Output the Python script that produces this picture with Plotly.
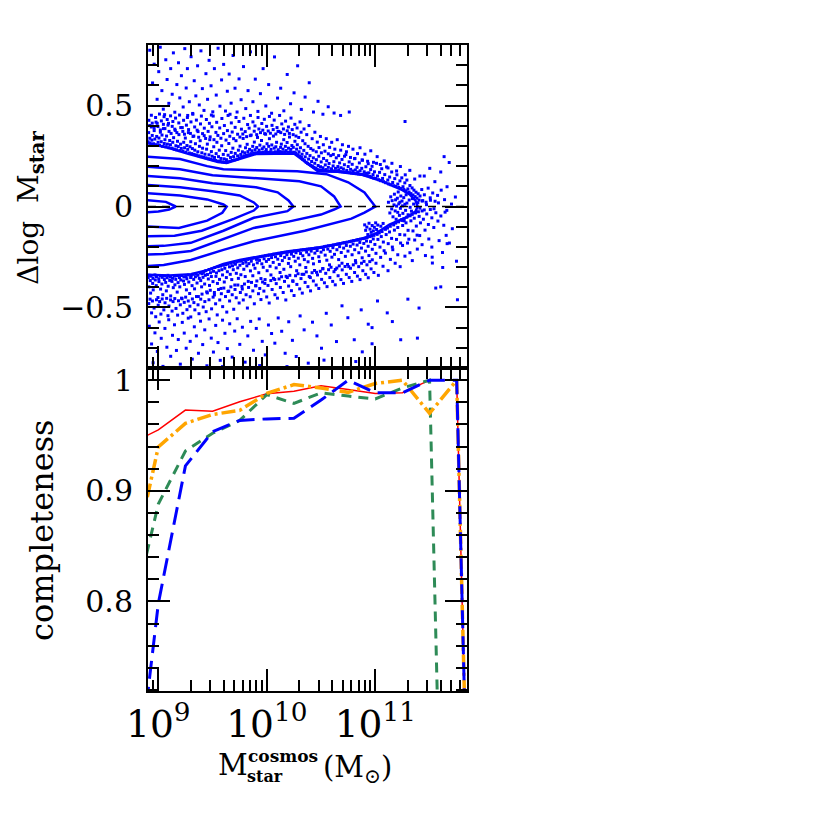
import plotly.graph_objects as go
from plotly.subplots import make_subplots

# shared x range of both panels, log10(M / Msun)
logm_range = [8.905, 11.845]

# ---- top panel: galaxies outside the density contours, (log10 M, dlogM)
upper_sparse = [
    (8.921, .774), (8.947, .612), (8.962, .705), (8.989, .531), (9.004, .668), (9.018, .789), (9.033, .574),
    (9.046, .482), (9.069, .727), (9.081, .629), (9.097, .511), (9.114, .683), (9.128, .556), (9.139, .761),
    (9.152, .467), (9.171, .604), (9.186, .712), (9.198, .538), (9.213, .648), (9.229, .493), (9.244, .782),
    (9.257, .587), (9.268, .683), (9.286, .519), (9.302, .742), (9.317, .461), (9.331, .623), (9.346, .548),
    (9.362, .697), (9.378, .503), (9.393, .771), (9.406, .584), (9.421, .476), (9.439, .658), (9.454, .531),
    (9.468, .724), (9.486, .598), (9.502, .469), (9.517, .683), (9.534, .552), (9.551, .784), (9.568, .497),
    (9.583, .627), (9.602, .704), (9.619, .473), (9.636, .571), (9.653, .656), (9.671, .512), (9.689, .748),
    (9.707, .586), (9.726, .468), (9.744, .632), (9.763, .529), (9.785, .693), (9.806, .485), (9.827, .574),
    (9.849, .766), (9.872, .519), (9.894, .631), (9.918, .471), (9.941, .559), (9.966, .683), (9.991, .498),
    (10.017, .604), (10.044, .462), (10.071, .741), (10.099, .537), (10.128, .586), (10.157, .474),
    (10.188, .654), (10.219, .509), (10.251, .563), (10.284, .697), (10.318, .481), (10.353, .542),
    (10.391, .613), (10.43, .468), (10.472, .521), (10.517, .457), (10.566, .494), (10.62, .463),
    (10.68, .451), (10.76, .468), (11.274, .421), (11.634, .247), (9.058, .455), (9.271, .451),
    (9.489, .453), (9.661, .457),
]
upper_mid = [
    (8.913, .427), (8.921, .401), (8.936, .452), (8.944, .413), (8.962, .389), (8.975, .441), (8.979, .418),
    (8.997, .396), (9.011, .458), (9.019, .379), (9.028, .424), (9.047, .407), (9.053, .445), (9.061, .386),
    (9.082, .431), (9.094, .412), (9.099, .372), (9.113, .449), (9.128, .397), (9.134, .421), (9.152, .383),
    (9.159, .438), (9.171, .366), (9.189, .414), (9.196, .453), (9.207, .391), (9.226, .372), (9.233, .427),
    (9.241, .358), (9.259, .403), (9.268, .441), (9.279, .381), (9.296, .362), (9.301, .419), (9.318, .457),
    (9.327, .349), (9.335, .394), (9.351, .428), (9.366, .371), (9.372, .343), (9.389, .409), (9.397, .448),
    (9.408, .361), (9.424, .388), (9.436, .337), (9.443, .431), (9.459, .372), (9.471, .412), (9.478, .345),
    (9.494, .395), (9.506, .448), (9.513, .331), (9.531, .367), (9.538, .417), (9.549, .352), (9.566, .389),
    (9.577, .338), (9.586, .436), (9.602, .361), (9.609, .401), (9.624, .329), (9.637, .376), (9.643, .451),
    (9.659, .348), (9.673, .414), (9.681, .369), (9.694, .336), (9.708, .392), (9.716, .441), (9.731, .358),
    (9.744, .421), (9.752, .344), (9.766, .383), (9.779, .359), (9.788, .437), (9.801, .371), (9.814, .346),
    (9.823, .406), (9.837, .388), (9.849, .451), (9.856, .354), (9.872, .419), (9.884, .373), (9.891, .399),
    (9.907, .356), (9.919, .441), (9.927, .384), (9.942, .366), (9.954, .411), (9.963, .378), (9.977, .432),
    (9.989, .358), (9.998, .397), (10.013, .374), (10.024, .446), (10.033, .363), (10.048, .402),
    (10.059, .381), (10.068, .428), (10.083, .359), (10.094, .391), (10.103, .372), (10.118, .451),
    (10.129, .366), (10.138, .409), (10.153, .384), (10.164, .357), (10.173, .423), (10.188, .375),
    (10.199, .394), (10.208, .362), (10.223, .438), (10.234, .381), (10.243, .356), (10.258, .407),
    (10.269, .349), (10.279, .389), (10.294, .342), (10.306, .419), (10.316, .368), (10.331, .326),
    (10.343, .384), (10.352, .311), (10.368, .356), (10.381, .298), (10.389, .401), (10.405, .287),
    (10.418, .336), (10.427, .279), (10.443, .368), (10.456, .271), (10.465, .319), (10.481, .292),
    (10.494, .347), (10.503, .266), (10.521, .306), (10.536, .274), (10.548, .336), (10.567, .261),
    (10.579, .293), (10.598, .318), (10.613, .258), (10.627, .284), (10.649, .331), (10.662, .252),
    (10.681, .279), (10.697, .306), (10.716, .249), (10.734, .271), (10.753, .298), (10.771, .243),
    (10.794, .284), (10.812, .238), (10.836, .262), (10.859, .291), (10.878, .231), (10.904, .259),
    (10.929, .224), (10.958, .276), (10.983, .219), (11.017, .247), (11.046, .208), (11.082, .226),
    (11.117, .191), (11.153, .214), (11.196, .176), (11.231, .198), (11.276, .157), (11.318, .179),
    (11.363, .136), (11.411, .151),
]
upper_band = [
    (8.906, .321), (8.911, .366), (8.922, .338), (8.925, .314), (8.936, .394), (8.941, .329), (8.944, .352),
    (8.957, .311), (8.962, .376), (8.968, .334), (8.977, .306), (8.985, .347), (8.99, .412), (8.998, .318),
    (9.006, .339), (9.011, .303), (9.019, .368), (9.027, .321), (9.034, .354), (9.039, .298), (9.048, .386),
    (9.055, .312), (9.061, .331), (9.069, .296), (9.076, .349), (9.084, .309), (9.089, .403), (9.097, .291),
    (9.105, .327), (9.112, .306), (9.118, .362), (9.127, .289), (9.133, .318), (9.141, .341), (9.147, .284),
    (9.156, .377), (9.162, .301), (9.168, .281), (9.177, .323), (9.184, .297), (9.19, .356), (9.199, .277),
    (9.205, .309), (9.212, .288), (9.221, .391), (9.227, .274), (9.234, .318), (9.242, .291), (9.249, .339),
    (9.255, .269), (9.264, .302), (9.271, .283), (9.277, .366), (9.286, .265), (9.292, .296), (9.299, .321),
    (9.308, .262), (9.314, .287), (9.32, .347), (9.329, .258), (9.336, .279), (9.342, .311), (9.351, .255),
    (9.358, .378), (9.364, .271), (9.373, .251), (9.379, .298), (9.386, .326), (9.395, .247), (9.401, .266),
    (9.408, .289), (9.417, .244), (9.423, .351), (9.43, .259), (9.439, .241), (9.445, .284), (9.452, .309),
    (9.461, .237), (9.467, .256), (9.474, .331), (9.483, .234), (9.489, .272), (9.496, .249), (9.505, .231),
    (9.511, .296), (9.518, .243), (9.527, .228), (9.533, .262), (9.54, .318), (9.549, .225), (9.555, .247),
    (9.562, .279), (9.571, .223), (9.577, .238), (9.584, .301), (9.593, .221), (9.599, .258), (9.606, .236),
    (9.615, .219), (9.621, .277), (9.628, .232), (9.637, .221), (9.643, .254), (9.65, .312), (9.659, .224),
    (9.665, .243), (9.672, .268), (9.681, .228), (9.687, .289), (9.694, .247), (9.703, .231), (9.709, .263),
    (9.716, .326), (9.725, .234), (9.731, .251), (9.738, .279), (9.747, .241), (9.753, .299), (9.76, .258),
    (9.769, .246), (9.775, .271), (9.782, .337), (9.791, .251), (9.797, .266), (9.804, .291), (9.813, .254),
    (9.819, .308), (9.826, .272), (9.835, .257), (9.841, .283), (9.848, .351), (9.857, .262), (9.863, .276),
    (9.87, .298), (9.879, .264), (9.885, .319), (9.892, .281), (9.901, .266), (9.907, .292), (9.914, .342),
    (9.923, .268), (9.929, .279), (9.936, .304), (9.945, .267), (9.951, .327), (9.958, .286), (9.967, .269),
    (9.973, .295), (9.98, .361), (9.989, .271), (9.995, .282), (10.002, .311), (10.011, .268), (10.017, .298),
    (10.024, .336), (10.033, .27), (10.039, .283), (10.046, .305), (10.055, .267), (10.061, .349),
    (10.068, .289), (10.077, .271), (10.083, .296), (10.09, .318), (10.099, .268), (10.105, .281),
    (10.112, .372), (10.121, .272), (10.127, .293), (10.134, .309), (10.143, .269), (10.149, .284),
    (10.156, .331), (10.165, .27), (10.171, .298), (10.178, .277), (10.187, .317), (10.193, .268),
    (10.2, .289), (10.209, .344), (10.215, .271), (10.222, .283), (10.231, .302), (10.237, .267),
    (10.244, .293), (10.253, .269), (10.259, .323), (10.266, .265), (10.275, .284), (10.281, .306),
    (10.288, .257), (10.297, .271), (10.303, .249), (10.31, .291), (10.319, .243), (10.325, .259),
    (10.332, .234), (10.341, .278), (10.347, .227), (10.354, .246), (10.363, .219), (10.369, .263),
    (10.376, .214), (10.385, .235), (10.391, .209), (10.398, .252), (10.407, .204), (10.413, .223),
    (10.42, .199), (10.429, .241), (10.435, .194), (10.442, .214), (10.451, .189), (10.457, .232),
    (10.464, .185), (10.473, .203), (10.479, .249), (10.486, .181), (10.495, .197), (10.501, .221),
    (10.508, .179), (10.517, .192), (10.523, .238), (10.53, .178), (10.539, .206), (10.545, .183),
    (10.552, .227), (10.561, .177), (10.567, .194), (10.574, .213), (10.583, .176), (10.589, .252),
    (10.596, .187), (10.605, .176), (10.611, .201), (10.618, .222), (10.627, .175), (10.633, .189),
    (10.64, .241), (10.649, .174), (10.655, .198), (10.662, .182), (10.671, .216), (10.677, .173),
    (10.684, .192), (10.693, .233), (10.699, .172), (10.706, .186), (10.715, .207), (10.721, .171),
    (10.728, .257), (10.737, .179), (10.743, .169), (10.75, .198), (10.759, .221), (10.765, .168),
    (10.772, .184), (10.781, .166), (10.787, .209), (10.794, .176), (10.803, .164), (10.809, .237),
    (10.816, .181), (10.825, .163), (10.831, .194), (10.838, .171), (10.847, .161), (10.853, .216),
    (10.86, .177), (10.869, .159), (10.875, .189), (10.882, .229), (10.891, .158), (10.897, .172),
    (10.904, .156), (10.913, .197), (10.919, .165), (10.926, .153), (10.935, .212), (10.941, .167),
    (10.948, .149), (10.957, .183), (10.963, .146), (10.97, .199), (10.979, .158), (10.985, .141),
    (10.992, .172), (11.003, .139), (11.011, .214), (11.02, .151), (11.031, .133), (11.039, .169),
    (11.048, .128), (11.059, .187), (11.067, .139), (11.076, .123), (11.087, .158), (11.095, .118),
    (11.104, .196), (11.115, .131), (11.123, .112), (11.132, .146), (11.143, .108), (11.151, .171),
    (11.16, .119), (11.171, .103), (11.179, .138), (11.188, .099), (11.199, .157), (11.207, .111),
    (11.216, .094), (11.227, .127), (11.235, .089), (11.244, .142), (11.255, .098), (11.263, .084),
    (11.272, .117), (11.283, .078), (11.291, .131), (11.3, .087), (11.311, .071), (11.319, .104),
    (11.328, .064), (11.339, .092), (11.347, .057), (11.356, .081), (11.367, .049), (11.375, .071),
    (11.384, .041), (11.395, .063), (11.403, .032), (11.412, .052), (11.428, .084), (11.437, .029),
    (11.452, .058), (11.468, .021), (11.487, .091), (11.506, .043), (11.529, .067), (11.551, .026),
    (11.574, .055), (11.607, .081), (11.638, .034),
]
lower_band = [
    (8.907, -.352), (8.913, -.398), (8.915, -.341), (8.926, -.367), (8.929, -.429), (8.934, -.345),
    (8.948, -.381), (8.951, -.356), (8.953, -.413), (8.969, -.339), (8.972, -.364), (8.981, -.392),
    (8.983, -.347), (8.997, -.451), (9.004, -.358), (9.006, -.372), (9.018, -.343), (9.021, -.409),
    (9.033, -.384), (9.035, -.351), (9.041, -.437), (9.056, -.362), (9.057, -.344), (9.068, -.376),
    (9.074, -.418), (9.082, -.353), (9.089, -.341), (9.091, -.395), (9.105, -.366), (9.112, -.349),
    (9.114, -.443), (9.126, -.371), (9.131, -.356), (9.138, -.402), (9.149, -.345), (9.153, -.388),
    (9.161, -.361), (9.174, -.424), (9.176, -.343), (9.182, -.377), (9.195, -.352), (9.198, -.398),
    (9.207, -.364), (9.214, -.342), (9.219, -.457), (9.232, -.369), (9.236, -.349), (9.241, -.386),
    (9.255, -.347), (9.259, -.413), (9.263, -.358), (9.277, -.339), (9.281, -.374), (9.289, -.431),
    (9.298, -.352), (9.303, -.345), (9.311, -.392), (9.322, -.336), (9.326, -.361), (9.334, -.408),
    (9.342, -.348), (9.348, -.333), (9.357, -.379), (9.365, -.341), (9.369, -.446), (9.378, -.356),
    (9.386, -.329), (9.391, -.367), (9.399, -.398), (9.404, -.333), (9.412, -.351), (9.419, -.326),
    (9.427, -.384), (9.433, -.341), (9.438, -.318), (9.446, -.423), (9.453, -.337), (9.461, -.359),
    (9.468, -.312), (9.472, -.391), (9.481, -.328), (9.489, -.347), (9.493, -.309), (9.504, -.372),
    (9.509, -.321), (9.517, -.438), (9.522, -.302), (9.531, -.346), (9.536, -.329), (9.545, -.381),
    (9.551, -.298), (9.559, -.318), (9.564, -.361), (9.573, -.295), (9.578, -.406), (9.586, -.313),
    (9.592, -.339), (9.599, -.291), (9.608, -.374), (9.613, -.306), (9.621, -.288), (9.627, -.352),
    (9.636, -.323), (9.641, -.285), (9.649, -.419), (9.656, -.299), (9.663, -.336), (9.669, -.281),
    (9.677, -.362), (9.684, -.294), (9.691, -.313), (9.696, -.277), (9.705, -.389), (9.711, -.286),
    (9.719, -.331), (9.724, -.274), (9.732, -.304), (9.738, -.356), (9.747, -.271), (9.752, -.291),
    (9.761, -.338), (9.766, -.268), (9.774, -.409), (9.779, -.282), (9.788, -.311), (9.794, -.265),
    (9.801, -.347), (9.807, -.276), (9.816, -.294), (9.822, -.262), (9.829, -.371), (9.835, -.283),
    (9.844, -.259), (9.849, -.319), (9.857, -.271), (9.864, -.257), (9.871, -.343), (9.877, -.289),
    (9.885, -.255), (9.891, -.306), (9.899, -.392), (9.905, -.262), (9.912, -.279), (9.919, -.252),
    (9.926, -.328), (9.933, -.267), (9.94, -.249), (9.946, -.357), (9.954, -.284), (9.961, -.247),
    (9.967, -.301), (9.975, -.259), (9.982, -.381), (9.988, -.244), (9.996, -.272), (10.003, -.318),
    (10.009, -.242), (10.017, -.262), (10.024, -.241), (10.03, -.296), (10.038, -.339), (10.044, -.253),
    (10.052, -.238), (10.059, -.277), (10.065, -.236), (10.073, -.362), (10.08, -.249), (10.086, -.304),
    (10.094, -.234), (10.101, -.261), (10.107, -.232), (10.115, -.287), (10.122, -.327), (10.128, -.243),
    (10.136, -.23), (10.143, -.268), (10.149, -.229), (10.157, -.311), (10.164, -.252), (10.17, -.227),
    (10.178, -.346), (10.185, -.239), (10.191, -.226), (10.199, -.282), (10.206, -.258), (10.212, -.224),
    (10.22, -.298), (10.227, -.236), (10.233, -.223), (10.241, -.371), (10.248, -.247), (10.254, -.221),
    (10.262, -.271), (10.269, -.229), (10.275, -.318), (10.283, -.219), (10.29, -.256), (10.296, -.218),
    (10.304, -.289), (10.311, -.233), (10.317, -.216), (10.325, -.336), (10.332, -.244), (10.338, -.215),
    (10.346, -.263), (10.353, -.213), (10.359, -.302), (10.367, -.226), (10.374, -.212), (10.38, -.274),
    (10.388, -.239), (10.395, -.211), (10.401, -.352), (10.409, -.221), (10.416, -.209), (10.422, -.257),
    (10.43, -.284), (10.437, -.208), (10.443, -.231), (10.451, -.206), (10.458, -.326), (10.464, -.218),
    (10.472, -.205), (10.479, -.249), (10.485, -.272), (10.493, -.203), (10.5, -.226), (10.507, -.202),
    (10.516, -.307), (10.522, -.214), (10.531, -.199), (10.538, -.241), (10.547, -.197), (10.553, -.266),
    (10.562, -.211), (10.569, -.195), (10.578, -.289), (10.584, -.222), (10.593, -.193), (10.6, -.251),
    (10.609, -.204), (10.615, -.191), (10.624, -.237), (10.631, -.312), (10.64, -.188), (10.646, -.214),
    (10.655, -.186), (10.662, -.263), (10.671, -.199), (10.677, -.184), (10.686, -.228), (10.693, -.281),
    (10.702, -.181), (10.708, -.206), (10.717, -.179), (10.724, -.247), (10.733, -.193), (10.739, -.177),
    (10.748, -.221), (10.755, -.298), (10.764, -.174), (10.77, -.197), (10.779, -.172), (10.786, -.239),
    (10.795, -.186), (10.801, -.169), (10.81, -.214), (10.817, -.268), (10.826, -.167), (10.832, -.191),
    (10.841, -.164), (10.848, -.229), (10.857, -.178), (10.863, -.162), (10.872, -.206), (10.879, -.254),
    (10.888, -.159), (10.894, -.183), (10.903, -.157), (10.91, -.221), (10.919, -.171), (10.925, -.154),
    (10.934, -.197), (10.941, -.243), (10.95, -.149), (10.956, -.174), (10.965, -.146), (10.972, -.212),
    (10.981, -.161), (10.987, -.143), (10.996, -.188), (11.006, -.232), (11.017, -.138), (11.024, -.163),
    (11.036, -.131), (11.043, -.201), (11.055, -.149), (11.062, -.124), (11.074, -.176), (11.081, -.219),
    (11.093, -.113), (11.1, -.139), (11.112, -.107), (11.119, -.184), (11.131, -.126), (11.138, -.098),
    (11.15, -.158), (11.157, -.201), (11.169, -.091), (11.176, -.117), (11.188, -.082), (11.195, -.163),
    (11.207, -.104), (11.214, -.076), (11.226, -.139), (11.233, -.181), (11.245, -.069), (11.252, -.094),
    (11.264, -.061), (11.271, -.141), (11.283, -.081), (11.29, -.053), (11.302, -.118), (11.309, -.162),
    (11.321, -.046), (11.328, -.071), (11.34, -.039), (11.347, -.121), (11.359, -.058), (11.366, -.031),
    (11.378, -.097), (11.385, -.142), (11.397, -.026), (11.404, -.049), (11.416, -.081), (11.431, -.022),
    (11.443, -.063), (11.458, -.117), (11.474, -.037), (11.489, -.089), (11.507, -.015), (11.521, -.056),
    (11.539, -.104), (11.558, -.031), (11.577, -.072), (11.604, -.047), (11.631, -.093), (11.659, -.019),
]
lower_mid = [
    (8.912, -.481), (8.924, -.459), (8.938, -.527), (8.946, -.468), (8.961, -.503), (8.976, -.546),
    (8.983, -.462), (8.999, -.489), (9.012, -.471), (9.024, -.533), (9.036, -.458), (9.051, -.512),
    (9.062, -.477), (9.077, -.455), (9.089, -.541), (9.098, -.493), (9.113, -.463), (9.127, -.518),
    (9.136, -.471), (9.152, -.456), (9.163, -.505), (9.178, -.538), (9.186, -.467), (9.203, -.487),
    (9.214, -.454), (9.226, -.529), (9.239, -.475), (9.252, -.449), (9.264, -.511), (9.276, -.468),
    (9.291, -.494), (9.299, -.547), (9.314, -.458), (9.328, -.476), (9.337, -.512), (9.352, -.446),
    (9.366, -.487), (9.375, -.531), (9.391, -.459), (9.403, -.434), (9.414, -.498), (9.429, -.471),
    (9.441, -.521), (9.452, -.428), (9.467, -.462), (9.479, -.415), (9.491, -.507), (9.505, -.449),
    (9.517, -.426), (9.528, -.482), (9.543, -.537), (9.555, -.411), (9.566, -.463), (9.581, -.432),
    (9.593, -.496), (9.604, -.404), (9.619, -.446), (9.631, -.523), (9.642, -.421), (9.657, -.468),
    (9.669, -.398), (9.681, -.437), (9.695, -.509), (9.707, -.411), (9.718, -.452), (9.733, -.389),
    (9.745, -.478), (9.756, -.426), (9.771, -.396), (9.783, -.463), (9.794, -.384), (9.809, -.437),
    (9.821, -.503), (9.832, -.401), (9.847, -.447), (9.859, -.376), (9.871, -.418), (9.885, -.482),
    (9.897, -.393), (9.908, -.369), (9.923, -.432), (9.935, -.406), (9.946, -.461), (9.961, -.374),
    (9.973, -.419), (9.984, -.362), (9.999, -.448), (10.011, -.391), (10.022, -.478), (10.037, -.367),
    (10.049, -.411), (10.061, -.356), (10.075, -.437), (10.087, -.382), (10.098, -.454), (10.113, -.359),
    (10.125, -.401), (10.136, -.348), (10.151, -.426), (10.163, -.371), (10.175, -.463), (10.189, -.352),
    (10.201, -.394), (10.212, -.341), (10.227, -.417), (10.239, -.368), (10.251, -.441), (10.265, -.343),
    (10.277, -.386), (10.288, -.333), (10.303, -.408), (10.315, -.357), (10.327, -.429), (10.341, -.336),
    (10.353, -.376), (10.364, -.324), (10.379, -.397), (10.391, -.347), (10.403, -.418), (10.417, -.328),
    (10.429, -.369), (10.44, -.317), (10.455, -.389), (10.467, -.339), (10.479, -.406), (10.493, -.321),
    (10.505, -.361), (10.516, -.309), (10.531, -.378), (10.543, -.331), (10.555, -.397), (10.569, -.313),
    (10.581, -.352), (10.592, -.301), (10.607, -.371), (10.619, -.323), (10.631, -.388), (10.645, -.305),
    (10.657, -.343), (10.668, -.294), (10.683, -.362), (10.695, -.314), (10.707, -.381), (10.721, -.297),
    (10.733, -.336), (10.744, -.287), (10.759, -.352), (10.771, -.306), (10.783, -.371), (10.797, -.289),
    (10.809, -.327), (10.82, -.279), (10.835, -.345), (10.847, -.298), (10.859, -.362), (10.873, -.281),
    (10.885, -.318), (10.896, -.272), (10.911, -.336), (10.923, -.289), (10.935, -.353), (10.949, -.273),
    (10.961, -.309), (10.972, -.264), (10.987, -.327), (11.006, -.281), (11.028, -.341), (11.049, -.252),
    (11.071, -.296), (11.093, -.231), (11.117, -.318), (11.139, -.262), (11.161, -.214), (11.183, -.281),
    (11.207, -.239), (11.229, -.298), (11.251, -.193), (11.273, -.246), (11.297, -.181), (11.319, -.229),
    (11.341, -.268), (11.363, -.166), (11.387, -.211), (11.409, -.144), (11.431, -.189), (11.462, -.243),
    (11.493, -.161), (11.521, -.201), (11.557, -.404), (11.526, -.28), (11.588, -.169), (11.619, -.228),
    (11.653, -.143), (11.683, -.181), (11.71, -.11),
]
lower_sparse = [
    (8.917, -.593), (8.938, -.681), (8.952, -.774), (8.969, -.626), (8.991, -.718), (9.008, -.572),
    (9.027, -.653), (9.043, -.792), (9.061, -.604), (9.079, -.697), (9.096, -.561), (9.114, -.742),
    (9.131, -.638), (9.149, -.586), (9.167, -.713), (9.184, -.659), (9.203, -.781), (9.221, -.574),
    (9.239, -.627), (9.257, -.702), (9.276, -.553), (9.294, -.668), (9.313, -.756), (9.332, -.596),
    (9.351, -.641), (9.37, -.727), (9.389, -.568), (9.409, -.684), (9.428, -.611), (9.448, -.789),
    (9.468, -.557), (9.488, -.652), (9.508, -.721), (9.529, -.589), (9.55, -.674), (9.571, -.762),
    (9.592, -.563), (9.614, -.628), (9.636, -.704), (9.658, -.581), (9.681, -.746), (9.704, -.617),
    (9.727, -.556), (9.751, -.683), (9.775, -.598), (9.8, -.771), (9.825, -.641), (9.851, -.569),
    (9.877, -.712), (9.903, -.604), (9.93, -.557), (9.958, -.668), (9.986, -.735), (10.015, -.587),
    (10.044, -.629), (10.074, -.677), (10.105, -.552), (10.137, -.618), (10.169, -.727), (10.202, -.571),
    (10.236, -.663), (10.271, -.743), (10.307, -.542), (10.344, -.611), (10.382, -.776), (10.421, -.573),
    (10.462, -.641), (10.504, -.702), (10.548, -.529), (10.594, -.587), (10.642, -.669), (10.693, -.492),
    (10.747, -.551), (10.806, -.66), (10.82, -.768), (10.87, -.512), (10.935, -.583), (10.97, -.6),
    (10.97, -.68), (10.88, -.72), (11.02, -.468), (11.11, -.527), (11.157, -.57), (11.234, -.66),
    (11.3, -.459), (11.388, -.652), (11.403, -.503), (11.757, -.462), (10.186, -.793), (9.934, -.788),
    (9.592, -.793), (10.527, -.761),
]
right_clump = [
    (11.121, .021), (11.134, -.032), (11.142, .048), (11.151, -.012), (11.155, .029), (11.163, -.051),
    (11.172, .008), (11.176, .061), (11.183, -.022), (11.187, .033), (11.192, -.063), (11.196, .002),
    (11.203, .041), (11.207, -.029), (11.211, .072), (11.216, .013), (11.222, -.044), (11.226, .021),
    (11.231, -.009), (11.235, .052), (11.241, -.066), (11.246, .027), (11.251, .003), (11.254, -.034),
    (11.262, .044), (11.266, -.071), (11.273, .011), (11.279, -.019), (11.284, .058), (11.291, .017),
    (11.302, -.041), (11.312, .032), (11.321, -.004), (11.333, -.023), (11.342, .039), (11.353, .012),
    (11.371, -.031), (11.392, .019), (11.411, -.008), (11.432, .027), (11.451, -.017), (11.472, .009),
    (11.508, .031), (11.541, -.011), (11.582, .018), (11.643, -.028), (11.702, .012),
    (10.902, -.091), (10.911, -.118), (10.922, -.102), (10.931, -.139), (10.942, -.083), (10.951, -.112),
    (10.962, -.128), (10.971, -.094), (10.982, -.121), (10.991, -.103), (11.003, -.081), (11.012, -.114),
    (11.023, -.092), (11.032, -.127), (11.051, -.098), (11.072, -.084),
    (11.451, .151), (11.502, .189), (11.549, .123), (11.603, .171), (11.661, .098), (11.524, -.251),
    (11.621, -.302), (11.748, -.271), (11.603, -.398), (11.662, -.184), (11.738, .047), (11.681, .218),
]

# ---- top panel: density contours, outermost first (log10 M, dlogM)
contour_1 = [
    (8.88, .316), (9.0, .30), (9.1, .29), (9.26, .263), (9.45, .235), (9.55, .22), (9.63, .215), (9.72, .23),
    (9.85, .255), (9.9, .26), (10.25, .263), (10.31, .238), (10.41, .197), (10.47, .175), (10.65, .172),
    (10.88, .157), (11.07, .123), (11.25, .081), (11.32, .058), (11.37, .03), (11.39, 0.0), (11.37, -.025),
    (11.3, -.05), (11.13, -.09), (11.0, -.135), (10.9, -.156), (10.75, -.175), (10.5, -.202), (10.2, -.222),
    (9.9, -.25), (9.75, -.265), (9.6, -.285), (9.45, -.315), (9.3, -.335), (9.1, -.342), (8.88, -.338),
]
contour_2 = [
    (8.88, .248), (9.2, .235), (9.45, .20), (9.6, .185), (9.9, .18), (10.28, .175), (10.55, .16), (10.75, .12),
    (10.9, .07), (11.0, 0.0), (10.9, -.03), (10.78, -.06), (10.35, -.12), (9.88, -.172), (9.6, -.215),
    (9.3, -.265), (9.05, -.29), (8.88, -.296),
]
contour_3 = [
    (8.88, .198), (9.2, .185), (9.5, .155), (9.9, .14), (10.3, .125), (10.5, .10), (10.62, .05), (10.68, 0.0),
    (10.62, -.015), (10.5, -.04), (10.2, -.075), (9.88, -.106), (9.6, -.16), (9.3, -.22), (9.05, -.235),
    (8.88, -.238),
]
contour_4 = [
    (8.88, .152), (9.2, .14), (9.5, .115), (9.9, .095), (10.1, .07), (10.2, .03), (10.245, 0.0), (10.19, -.023),
    (9.88, -.056), (9.6, -.12), (9.3, -.18), (9.05, -.195), (8.88, -.197),
]
contour_5 = [
    (8.88, .107), (9.2, .095), (9.5, .075), (9.75, .055), (9.88, .02), (9.92, 0.0), (9.88, -.02), (9.7, -.06),
    (9.4, -.12), (9.15, -.145), (8.88, -.147),
]
contour_6 = [
    (8.88, .066), (9.2, .055), (9.45, .035), (9.6, .01), (9.63, 0.0), (9.59, -.031), (9.45, -.07),
    (9.19, -.106), (8.88, -.098),
]
contour_7 = [
    (8.88, .032), (9.07, .023), (9.16, 0.0), (9.1, -.015), (9.0, -.025), (8.88, -.03),
]
contours = [contour_1, contour_2, contour_3, contour_4, contour_5, contour_6, contour_7]

# ---- bottom panel: completeness per stellar-mass bin
bin_logm = [8.75, 9.0, 9.25, 9.5, 9.75, 10.0, 10.25, 10.5, 10.75, 11.0, 11.25, 11.5, 11.75, 12.0]
comp_red = [0.943, 0.955, 0.973, 0.972, 0.9805, 0.9877, 0.990, 0.995, 0.9916, 0.988, 0.9886, 1.0, 1.0, 0.0]
comp_green = [0.783, 0.888, 0.936, 0.952, 0.9636, 0.987, 0.979, 0.9886, 0.9856, 0.983, 0.993, 1.0, 0.0, 0.0]
comp_orange = [0.828, 0.9396, 0.961, 0.969, 0.9727, 0.988, 0.996, 0.993, 0.989, 0.997, 1.0, 0.970, 1.0, 0.0]
comp_blue = [0.59, 0.798, 0.9225, 0.9535, 0.9636, 0.965, 0.9655, 0.982, 1.0, 0.9886, 0.9886, 1.0, 1.0, 0.0]

FONT = "DejaVu Serif"

fig = make_subplots(rows=2, cols=1, shared_xaxes=True, vertical_spacing=0)

# scatter points first so the contours sit on top
pts = upper_sparse + upper_mid + upper_band + lower_band + lower_mid + lower_sparse + right_clump
fig.add_trace(
    go.Scatter(
        x=[10 ** p[0] for p in pts],
        y=[p[1] for p in pts],
        mode="markers",
        marker=dict(size=3, symbol="square", color="#0000ff", line=dict(width=0)),
        showlegend=False,
        hoverinfo="skip",
    ),
    row=1, col=1,
)
for c in contours:
    fig.add_trace(
        go.Scatter(
            x=[10 ** p[0] for p in c],
            y=[p[1] for p in c],
            mode="lines",
            line=dict(color="#0000ff", width=2.5),
            showlegend=False,
            hoverinfo="skip",
        ),
        row=1, col=1,
    )
fig.add_hline(y=0, row=1, col=1, line=dict(color="black", width=1.5, dash="8px,6px"))

# completeness curves
curves = [
    (comp_red, dict(color="#ff0000", width=1.5)),
    (comp_green, dict(color="#2e8b57", width=3, dash="10px,7px")),
    (comp_orange, dict(color="#ffa500", width=3.5, dash="14px,4px,3px,4px")),
    (comp_blue, dict(color="#0000ff", width=3, dash="18px,8px")),
]
for vals, style in curves:
    fig.add_trace(
        go.Scatter(
            x=[10 ** v for v in bin_logm],
            y=vals,
            mode="lines",
            line=style,
            showlegend=False,
            hoverinfo="skip",
        ),
        row=2, col=1,
    )

axis_style = dict(
    showline=True, linecolor="black", linewidth=2, mirror="ticks",
    ticks="inside", ticklen=22, tickwidth=2, tickcolor="black",
    showgrid=False, zeroline=False,
    tickfont=dict(family=FONT, size=30, color="black"),
)
minor_style = dict(ticks="inside", ticklen=11, tickwidth=2, tickcolor="black", showgrid=False)

fig.update_xaxes(
    type="log", range=logm_range, dtick=1, exponentformat="power",
    minor=dict(minor_style, dtick="D1"), ticklabelstandoff=0, **axis_style,
)
fig.update_yaxes(
    range=[-0.8, 0.8], dtick=0.5, tick0=0, minor=dict(minor_style, dtick=0.1),
    ticklabelstandoff=7, row=1, col=1, **axis_style,
)
fig.update_yaxes(
    range=[0.719, 1.011], dtick=0.1, tick0=0, minor=dict(minor_style, dtick=0.02),
    ticklabelstandoff=7, row=2, col=1, **axis_style,
)

# axis titles as annotations, centred on their spots in paper units
ann = dict(xref="paper", yref="paper", showarrow=False, xanchor="center", yanchor="middle",
           font=dict(family=FONT, color="black"))
fig.add_annotation(ann, text="\u0394log\u00a0\u00a0M<sub><b>star</b></sub>", x=-0.367, y=0.748,
                   textangle=-90, font_size=28)
fig.add_annotation(ann, text="completeness", x=-0.332, y=0.248, textangle=-90, font_size=32)
fig.add_annotation(ann, text="M", x=0.2665, y=-0.1146, font_size=29)
fig.add_annotation(ann, text="<b>cosmos</b>", x=0.423, y=-0.101, font_size=17)
fig.add_annotation(ann, text="<b>star</b>", x=0.368, y=-0.1316, font_size=16)
fig.add_annotation(ann, text="(M<sub>\u2299</sub>)", x=0.657, y=-0.121, font_size=29)

# the page body adds an 8 px offset, so the margins are trimmed by that much
fig.update_layout(
    width=830, height=830,
    margin=dict(l=140, r=371, t=37, b=147),
    paper_bgcolor="white", plot_bgcolor="white",
    showlegend=False,
)

fig.write_html("out.html")
